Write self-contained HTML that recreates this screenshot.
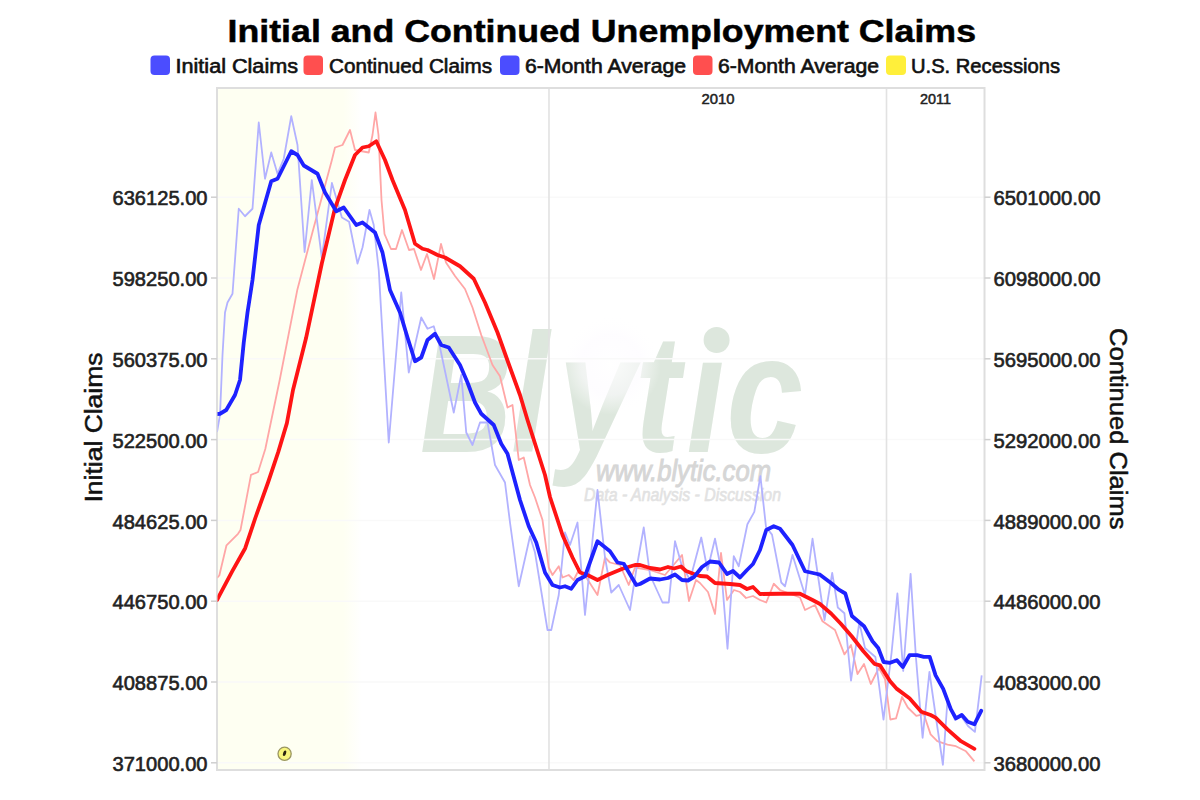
<!DOCTYPE html>
<html><head><meta charset="utf-8"><style>
html,body{margin:0;padding:0;background:#fff;width:1200px;height:800px;overflow:hidden}
svg{display:block}
text{font-family:"Liberation Sans",sans-serif}
.ax{font-size:20px;fill:#222;stroke:#222;stroke-width:0.6px}
.at{font-size:23px;fill:#111;stroke:#111;stroke-width:0.5px}
.yr{font-size:14px;fill:#222;stroke:#222;stroke-width:0.5px}
.ti{font-size:32px;font-weight:bold;fill:#000;stroke:#000;stroke-width:0.5px}
.lg{font-size:19.5px;fill:#111;stroke:#111;stroke-width:0.6px}
.wm{font-size:168px;font-weight:bold;font-style:italic;fill:#dde7dd}
.wm2{font-size:30px;font-style:italic;fill:#d6d6d6;stroke:#d6d6d6;stroke-width:1px}
.wm3{font-size:17.5px;font-style:italic;fill:#e2e2e2;stroke:#e2e2e2;stroke-width:0.6px}
</style></head><body>
<svg width="1200" height="800" viewBox="0 0 1200 800">
<rect x="0" y="0" width="1200" height="800" fill="#fff"/>
<defs><linearGradient id="shg" x1="217" y1="0" x2="362" y2="0" gradientUnits="userSpaceOnUse"><stop offset="0" stop-color="#fefff2"/><stop offset="0.87" stop-color="#fefff2"/><stop offset="1" stop-color="#fefff2" stop-opacity="0"/></linearGradient></defs>
<rect x="217" y="88" width="145" height="682" fill="url(#shg)"/>
<text transform="translate(421,452) scale(0.82,1)" class="wm"><tspan x="109.8">l</tspan><tspan x="167.4">y</tspan><tspan x="260.6">t</tspan><tspan x="323.8">ı</tspan><tspan x="372.7">c</tspan></text>
<text transform="translate(420,452) scale(0.76,1)" class="wm">B</text>
<circle cx="716.6" cy="340" r="13" fill="#dde7dd"/>
<defs><radialGradient id="blob" cx="0.5" cy="0.5" r="0.5"><stop offset="0" stop-color="#fff" stop-opacity="0.85"/><stop offset="0.6" stop-color="#fdfbff" stop-opacity="0.6"/><stop offset="1" stop-color="#fff" stop-opacity="0"/></radialGradient><filter id="soft" x="-5%" y="-5%" width="110%" height="110%"><feGaussianBlur stdDeviation="0.45"/></filter></defs>
<circle cx="611" cy="365" r="50" fill="url(#blob)"/>
<text x="596" y="480.5" class="wm2" textLength="175" lengthAdjust="spacingAndGlyphs">www.blytic.com</text>
<text x="584" y="501" class="wm3" textLength="197" lengthAdjust="spacingAndGlyphs">Data - Analysis - Discussion</text>
<line x1="217" y1="762.8" x2="984.5" y2="762.8" stroke="#f9f9f9" stroke-width="1.5"/>
<line x1="217" y1="682.0" x2="984.5" y2="682.0" stroke="#f9f9f9" stroke-width="1.5"/>
<line x1="217" y1="601.2" x2="984.5" y2="601.2" stroke="#f9f9f9" stroke-width="1.5"/>
<line x1="217" y1="520.4" x2="984.5" y2="520.4" stroke="#f9f9f9" stroke-width="1.5"/>
<line x1="217" y1="439.6" x2="984.5" y2="439.6" stroke="#f9f9f9" stroke-width="1.5"/>
<line x1="217" y1="358.8" x2="984.5" y2="358.8" stroke="#f9f9f9" stroke-width="1.5"/>
<line x1="217" y1="278.0" x2="984.5" y2="278.0" stroke="#f9f9f9" stroke-width="1.5"/>
<line x1="217" y1="197.2" x2="984.5" y2="197.2" stroke="#f9f9f9" stroke-width="1.5"/>
<line x1="549" y1="88" x2="549" y2="770" stroke="#e2e2e2" stroke-width="1.6"/>
<line x1="886.5" y1="88" x2="886.5" y2="770" stroke="#e2e2e2" stroke-width="1.6"/>
<rect x="217" y="88" width="767.5" height="682" fill="none" stroke="#dedede" stroke-width="2"/>
<line x1="211" y1="762.8" x2="217" y2="762.8" stroke="#cfcfcf" stroke-width="1.5"/>
<line x1="984.5" y1="762.8" x2="990.5" y2="762.8" stroke="#cfcfcf" stroke-width="1.5"/>
<line x1="211" y1="682.0" x2="217" y2="682.0" stroke="#cfcfcf" stroke-width="1.5"/>
<line x1="984.5" y1="682.0" x2="990.5" y2="682.0" stroke="#cfcfcf" stroke-width="1.5"/>
<line x1="211" y1="601.2" x2="217" y2="601.2" stroke="#cfcfcf" stroke-width="1.5"/>
<line x1="984.5" y1="601.2" x2="990.5" y2="601.2" stroke="#cfcfcf" stroke-width="1.5"/>
<line x1="211" y1="520.4" x2="217" y2="520.4" stroke="#cfcfcf" stroke-width="1.5"/>
<line x1="984.5" y1="520.4" x2="990.5" y2="520.4" stroke="#cfcfcf" stroke-width="1.5"/>
<line x1="211" y1="439.6" x2="217" y2="439.6" stroke="#cfcfcf" stroke-width="1.5"/>
<line x1="984.5" y1="439.6" x2="990.5" y2="439.6" stroke="#cfcfcf" stroke-width="1.5"/>
<line x1="211" y1="358.8" x2="217" y2="358.8" stroke="#cfcfcf" stroke-width="1.5"/>
<line x1="984.5" y1="358.8" x2="990.5" y2="358.8" stroke="#cfcfcf" stroke-width="1.5"/>
<line x1="211" y1="278.0" x2="217" y2="278.0" stroke="#cfcfcf" stroke-width="1.5"/>
<line x1="984.5" y1="278.0" x2="990.5" y2="278.0" stroke="#cfcfcf" stroke-width="1.5"/>
<line x1="211" y1="197.2" x2="217" y2="197.2" stroke="#cfcfcf" stroke-width="1.5"/>
<line x1="984.5" y1="197.2" x2="990.5" y2="197.2" stroke="#cfcfcf" stroke-width="1.5"/>
<text x="112.5" y="771.0" class="ax" textLength="95" lengthAdjust="spacingAndGlyphs">371000.00</text>
<text x="112.5" y="690.2" class="ax" textLength="95" lengthAdjust="spacingAndGlyphs">408875.00</text>
<text x="112.5" y="609.4" class="ax" textLength="95" lengthAdjust="spacingAndGlyphs">446750.00</text>
<text x="112.5" y="528.6" class="ax" textLength="95" lengthAdjust="spacingAndGlyphs">484625.00</text>
<text x="112.5" y="447.8" class="ax" textLength="95" lengthAdjust="spacingAndGlyphs">522500.00</text>
<text x="112.5" y="367.0" class="ax" textLength="95" lengthAdjust="spacingAndGlyphs">560375.00</text>
<text x="112.5" y="286.2" class="ax" textLength="95" lengthAdjust="spacingAndGlyphs">598250.00</text>
<text x="112.5" y="205.4" class="ax" textLength="95" lengthAdjust="spacingAndGlyphs">636125.00</text>
<text x="993.5" y="771.0" class="ax" textLength="107" lengthAdjust="spacingAndGlyphs">3680000.00</text>
<text x="993.5" y="690.2" class="ax" textLength="107" lengthAdjust="spacingAndGlyphs">4083000.00</text>
<text x="993.5" y="609.4" class="ax" textLength="107" lengthAdjust="spacingAndGlyphs">4486000.00</text>
<text x="993.5" y="528.6" class="ax" textLength="107" lengthAdjust="spacingAndGlyphs">4889000.00</text>
<text x="993.5" y="447.8" class="ax" textLength="107" lengthAdjust="spacingAndGlyphs">5292000.00</text>
<text x="993.5" y="367.0" class="ax" textLength="107" lengthAdjust="spacingAndGlyphs">5695000.00</text>
<text x="993.5" y="286.2" class="ax" textLength="107" lengthAdjust="spacingAndGlyphs">6098000.00</text>
<text x="993.5" y="205.4" class="ax" textLength="107" lengthAdjust="spacingAndGlyphs">6501000.00</text>
<text transform="translate(101.5,502.5) rotate(-90)" class="at" textLength="150" lengthAdjust="spacingAndGlyphs">Initial Claims</text>
<text transform="translate(1110,328) rotate(90)" class="at" textLength="201.5" lengthAdjust="spacingAndGlyphs">Continued Claims</text>
<text x="701.5" y="104.3" class="yr" textLength="33" lengthAdjust="spacingAndGlyphs">2010</text>
<text x="920" y="104.3" class="yr" textLength="31" lengthAdjust="spacingAndGlyphs">2011</text>
<clipPath id="pc"><rect x="217.5" y="88" width="766.5" height="682"/></clipPath><g clip-path="url(#pc)">
<polyline points="217,578 219.3,575.5 226.5,545.3 238,533.8 240.5,530 251,474.9 258.1,472 265.3,449 279.7,380 297.4,289.4 311.8,234.8 331.9,160 335,147.5 342.5,145 350,130 355,150 368.75,152.5 372.5,135 375.5,112.5 378.5,135 381.5,200 384.5,234 391,249 396,249 402,230 409,250 414,249 421,270 427,254 434,279 441,244 446,262.5 455,276 465,289 472.5,307.5 481.25,335 492.5,365 500,376.25 507.5,407.5 512.5,405 518.75,460 523.75,457.5 530,485 535,497.5 542.5,520 548.75,567.5 552.5,575 558.75,566.25 562.5,577.5 568.75,575 573.75,580 578.75,570 586.25,577.5 597.5,595 605,557.5 610,562.5 620,565 628.75,585 635,567.5 650,570 665,575 682,555 689,601 696,580 700,583 708,592 715,614 721,553 727,600 734,590 740,592 746,598 753,596 760,600 766.25,602.5 773.75,583.75 780,590 800,597.5 805,610 815,605 822.5,621.25 835,630 844.4,654.4 851,645 857.5,674 864,664 870.8,684 878.9,668 885,679 890.3,719.5 896,718.4 902,697 907.8,707.5 916.3,715.9 923.8,714.2 930.6,734.4 937.3,741.2 947.5,744.6 955.9,746.2 966,751.3 974.4,761.4" fill="none" stroke="#ffa6a6" stroke-width="1.8" stroke-linejoin="round"/>
<polyline points="217,432 220,415 222.5,355 225,312.5 227.5,302.5 232.5,293.75 238.75,208.75 245,216.25 252.5,208.75 258.75,122.5 265,178.75 271.25,152.5 277.5,173.75 283.75,158.75 291.25,116.25 297.5,145 304.6,252 311.8,180.1 321.8,257.8 331.9,183 341.9,217.5 349.1,221.8 357.5,263.5 362.5,247.5 369.5,210 373.75,225 378.75,270 388.75,442.5 401.25,292.5 408.75,372.5 421.25,317.5 427.5,328.75 433.75,326.25 440,347.5 453.75,412.5 461.25,375 466.25,432.5 472.5,445 480,422.5 487.5,422.5 495,465 505,482.5 510,522.5 518.75,586.25 530,536.25 535,552.5 547.5,630 551.25,630 558.75,595 565,532.5 570,545 577.5,522.5 585,615 597.5,490 605,557.5 611.25,592.5 618.75,585 630,610 636.25,570 643.75,527.5 650,575 662.5,602.5 668.75,602.5 675,541.25 681.25,563.75 690,580 701.25,537.5 707.5,570 715,538.75 721.25,570 727.5,648.75 733.75,556.25 738.75,566.25 747.4,524.3 754.3,511.9 760.4,476.1 766,527 772,534.6 781.25,582.5 785,586.25 792.5,555 805,595 812.5,538.75 824.5,620 832.2,572.8 837.8,607.5 844.4,613.2 851,680.7 859.3,622.4 865,648 875.4,657 883.5,719.6 891.6,652.5 897.4,593.5 903.2,671 910.6,573.9 915.9,657 922.6,737.8 929.4,672 936,718 942.9,764.8 947.5,700 955,720 961,716 968,726 974.9,731.9 981.7,675.4" fill="none" stroke="#b2b2ff" stroke-width="1.8" stroke-linejoin="round"/>
<polyline points="217,600 219.3,595.6 232.3,571.2 245.2,548.2 255.3,518 268.2,482 278.3,451.9 286.9,423.1 293,390 306,338.3 321.8,263.5 334.8,208.9 345,180 355,155 362.5,147.5 368.75,146.25 376.25,141.25 385,160 392.5,180 405,210 415,243.75 422.5,248.75 427.5,250 437.5,255 445,257.5 460,266.25 473.75,278.75 485,302.5 497.5,332.5 510,367.5 520,395 527.5,420 545,475 550,497 562.5,535 572.5,557.5 580,572.5 587.5,575 597.5,580 607.5,575 622.5,568.75 635,565 640,565 650,568 660,569.5 668,567 674,568.5 681,566.5 686,571 694,574 700,576 707,576.5 715,583 730,584 740,585 747,589 753,587 760,594 780,593.75 800,593.75 812.5,600 820,604 831.3,613.8 840.6,623.5 851.9,636.5 863.2,651 874.4,663.8 880,665.3 890.1,681.3 896.9,688.9 909.5,698.2 921.3,711.7 930.6,715 935.6,717.6 947.5,729.4 960.9,741.2 974.4,748.8" fill="none" stroke="#ff1414" stroke-width="3.8" stroke-linejoin="round" stroke-linecap="round"/>
<polyline points="217,414 220,413.75 226.25,410 235,395 240,380 243.75,342.5 247.5,312.5 252.5,280 258.75,225 271.25,181.25 277.5,178.75 291.25,151.25 297.5,155 303.75,165.5 317.5,173.75 325,192.5 336.25,211.25 343.75,207.5 356.25,225 362.5,222.5 375,232.5 382.5,252.5 390,290 400,312.5 407.5,337.5 415,361.25 421.25,357.5 427.5,340 435,333.75 441.25,345 448.75,347.5 460,365 467.5,382.5 475,402.5 481.25,413.75 493.75,425 501.25,443.75 507.5,453.75 520,500 528.75,526.25 536.25,542.5 545,572.5 552.5,585 560,587.5 565,586.25 571.25,588.75 577.5,580 585,576.25 597.5,541.25 610,551.25 617.5,562.5 623.75,563.75 636.25,585 640,584 650,578.5 660,579.5 668,578 675,574.5 682,580 688,580.5 694,577 702,567 710,561.5 719,562.5 727,574 733,571 740,577.5 747,570 753,564 760,550 766.25,530 773.75,526.25 780,528.75 792.5,545 805,571.25 816.25,573.75 820,574.7 831.3,583.2 838.8,589.7 845.3,593.5 851.9,616 864.1,626.3 872.5,641.3 878.2,647.9 883.6,662 890.1,662.8 896.9,660.2 902.8,667 909.5,655.2 917.1,655.2 923.8,656.9 929.7,656.9 935.6,675.4 943.2,688.9 950.8,709.1 955.9,718.4 961.8,715 967.7,721.8 974.4,724.3 981.2,710.8" fill="none" stroke="#1e22ff" stroke-width="3.8" stroke-linejoin="round" stroke-linecap="round"/>
</g>
<circle cx="284.6" cy="753.8" r="6.6" fill="#f7f57c" stroke="#9a9660" stroke-width="1.3"/>
<ellipse cx="284.6" cy="753.3" rx="1.5" ry="2.9" transform="rotate(20 284.6 753.3)" fill="#2a2410"/>
<text x="227.5" y="41.8" class="ti" textLength="748.5" lengthAdjust="spacingAndGlyphs">Initial and Continued Unemployment Claims</text>

<rect x="150.5" y="55.5" width="19.5" height="19.5" rx="4" fill="#4b4dff"/>
<text x="175.5" y="72.6" class="lg" textLength="122.5" lengthAdjust="spacingAndGlyphs">Initial Claims</text>
<rect x="303.5" y="55.5" width="19.5" height="19.5" rx="4" fill="#ff4f4f"/>
<text x="329" y="72.6" class="lg" textLength="163" lengthAdjust="spacingAndGlyphs">Continued Claims</text>
<rect x="500" y="55.5" width="19.5" height="19.5" rx="4" fill="#4b4dff"/>
<text x="525" y="72.6" class="lg" textLength="161" lengthAdjust="spacingAndGlyphs">6-Month Average</text>
<rect x="693" y="55.5" width="19.5" height="19.5" rx="4" fill="#ff4f4f"/>
<text x="718" y="72.6" class="lg" textLength="161" lengthAdjust="spacingAndGlyphs">6-Month Average</text>
<rect x="886" y="55.5" width="20" height="19.5" rx="4" fill="#ffef3a"/>
<text x="911" y="72.6" class="lg" textLength="149" lengthAdjust="spacingAndGlyphs">U.S. Recessions</text>

</svg>
</body></html>
